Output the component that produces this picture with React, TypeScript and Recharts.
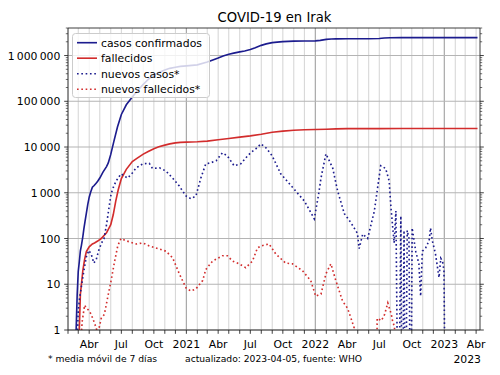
import React from "react";
import { LineChart, Line, XAxis, YAxis, ReferenceLine } from "recharts";

const FONT = '"DejaVu Sans", "Liberation Sans", sans-serif';
const W = 500;
const H = 375;

// ---------- texts ----------
const chartTitle = "COVID-19 en Irak";
const footnoteLeft = "* media móvil de 7 días";
const footnoteRight = "actualizado: 2023-04-05, fuente: WHO";
const offsetYearLabel = "2023";
const seriesNames = ["casos confirmados", "fallecidos", "nuevos casos*", "nuevos fallecidos*"];

// ---------- axis ----------
const xStart = "2020-02-01";
const xEnd = "2023-04-12";
const monthLabels: Record<number, string> = { 3: "Abr", 6: "Jul", 9: "Oct" };
const yMajorValues = [1, 10, 100, 1000, 10000, 100000, 1000000];
const yMajorLabels = ["1", "10", "100", "1\u2009000", "10\u2009000", "100\u2009000", "1\u2009000\u2009000"];
const yMax = 4000000;

// ---------- data: [date, value] ----------
const confirmed: [string, number][] = [
  ["2020-02-24", 1], ["2020-02-27", 6], ["2020-03-01", 19], ["2020-03-04", 31], ["2020-03-07", 54],
  ["2020-03-10", 71], ["2020-03-14", 110], ["2020-03-17", 164], ["2020-03-20", 230], ["2020-03-24", 360],
  ["2020-03-28", 560], ["2020-04-01", 800], ["2020-04-05", 1030], ["2020-04-10", 1320], ["2020-04-15", 1440],
  ["2020-04-20", 1600], ["2020-04-25", 1780], ["2020-05-01", 2100], ["2020-05-10", 2820], ["2020-05-20", 3730],
  ["2020-05-25", 4500], ["2020-06-01", 6900], ["2020-06-10", 13500], ["2020-06-20", 27400], ["2020-07-01", 51500],
  ["2020-07-15", 83900], ["2020-08-01", 124600], ["2020-08-15", 168000], ["2020-09-01", 234000], ["2020-09-15", 300000],
  ["2020-10-01", 367000], ["2020-10-15", 426000], ["2020-11-01", 484000], ["2020-11-15", 525000], ["2020-12-01", 556000],
  ["2020-12-15", 578000], ["2021-01-01", 596000], ["2021-02-01", 625000], ["2021-03-01", 720000], ["2021-03-15", 790000],
  ["2021-04-01", 880000], ["2021-04-15", 980000], ["2021-05-01", 1070000], ["2021-05-15", 1130000], ["2021-06-01", 1200000],
  ["2021-06-15", 1260000], ["2021-07-01", 1350000], ["2021-07-15", 1480000], ["2021-08-01", 1670000], ["2021-08-15", 1800000],
  ["2021-09-01", 1920000], ["2021-09-15", 1970000], ["2021-10-01", 2020000], ["2021-11-01", 2060000], ["2021-12-01", 2085000],
  ["2022-01-01", 2095000], ["2022-01-15", 2150000], ["2022-02-01", 2260000], ["2022-02-15", 2300000], ["2022-03-01", 2315000],
  ["2022-04-01", 2322000], ["2022-06-01", 2330000], ["2022-07-01", 2360000], ["2022-07-15", 2420000], ["2022-08-01", 2445000],
  ["2022-09-01", 2460000], ["2023-04-05", 2465000],
];

const deaths: [string, number][] = [
  ["2020-03-04", 1], ["2020-03-07", 6], ["2020-03-10", 10], ["2020-03-14", 20], ["2020-03-19", 35],
  ["2020-03-24", 52], ["2020-04-01", 66], ["2020-04-10", 76], ["2020-04-16", 80], ["2020-04-25", 88],
  ["2020-05-05", 100], ["2020-05-20", 133], ["2020-06-01", 200], ["2020-06-08", 330], ["2020-06-15", 650],
  ["2020-06-22", 1150], ["2020-07-01", 2050], ["2020-07-15", 3250], ["2020-08-01", 4800], ["2020-08-15", 5700],
  ["2020-09-01", 7000], ["2020-09-15", 8000], ["2020-10-01", 9200], ["2020-10-15", 10100], ["2020-11-01", 11000],
  ["2020-11-15", 11700], ["2020-12-01", 12300], ["2020-12-15", 12600], ["2021-01-01", 12830], ["2021-02-01", 13050],
  ["2021-03-01", 13500], ["2021-04-01", 14400], ["2021-05-01", 15400], ["2021-06-01", 16500], ["2021-07-01", 17500],
  ["2021-08-01", 19000], ["2021-09-01", 21000], ["2021-10-01", 22200], ["2021-11-01", 23200], ["2021-12-01", 23800],
  ["2022-01-01", 24100], ["2022-02-01", 24500], ["2022-03-01", 25000], ["2022-04-01", 25200], ["2022-07-01", 25230],
  ["2022-09-01", 25360], ["2023-04-05", 25375],
];

const newCases: [string, number][] = [
  ["2020-02-24", 0.14], ["2020-03-01", 2.7], ["2020-03-05", 5], ["2020-03-10", 9], ["2020-03-17", 20],
  ["2020-03-24", 40], ["2020-03-31", 55], ["2020-04-07", 45], ["2020-04-14", 29], ["2020-04-21", 35],
  ["2020-04-28", 55], ["2020-05-06", 80], ["2020-05-13", 100], ["2020-05-20", 200], ["2020-05-29", 600],
  ["2020-06-02", 950], ["2020-06-08", 1300], ["2020-06-16", 1800], ["2020-06-30", 2600], ["2020-07-10", 2300],
  ["2020-07-19", 2100], ["2020-08-01", 2700], ["2020-08-12", 3500], ["2020-08-31", 4300], ["2020-09-18", 4400],
  ["2020-09-27", 3400], ["2020-10-17", 3500], ["2020-11-04", 3000], ["2020-11-23", 2100], ["2020-12-12", 1400],
  ["2020-12-31", 850], ["2021-01-14", 740], ["2021-01-28", 850], ["2021-02-11", 2100], ["2021-02-25", 4300],
  ["2021-03-10", 4500], ["2021-03-26", 5000], ["2021-04-13", 7500], ["2021-04-27", 6400], ["2021-05-16", 3900],
  ["2021-06-04", 4300], ["2021-06-20", 6000], ["2021-07-02", 7500], ["2021-07-17", 9200], ["2021-07-31", 11700],
  ["2021-08-15", 9500], ["2021-09-01", 6400], ["2021-09-25", 2600], ["2021-10-13", 1800], ["2021-11-06", 1100],
  ["2021-12-01", 660], ["2021-12-29", 270], ["2022-01-10", 900], ["2022-01-17", 2100], ["2022-01-31", 7100],
  ["2022-02-19", 3500], ["2022-03-05", 1100], ["2022-03-24", 350], ["2022-04-12", 220], ["2022-04-30", 130],
  ["2022-05-05", 60], ["2022-05-15", 125], ["2022-05-29", 100], ["2022-06-17", 400], ["2022-07-05", 3900],
  ["2022-07-19", 3400], ["2022-07-29", 1800], ["2022-08-03", 470], ["2022-08-12", 80], ["2022-08-17", 400],
  ["2022-08-24", 0], ["2022-08-31", 310], ["2022-09-04", 0], ["2022-09-09", 150], ["2022-09-13", 0],
  ["2022-09-18", 150], ["2022-09-23", 100], ["2022-09-28", 0], ["2022-10-02", 170], ["2022-10-12", 53],
  ["2022-10-21", 28], ["2022-10-26", 5.5], ["2022-10-31", 53], ["2022-11-09", 62], ["2022-11-19", 90],
  ["2022-11-23", 170], ["2022-11-28", 90], ["2022-12-07", 46], ["2022-12-17", 14], ["2022-12-22", 37],
  ["2022-12-27", 32], ["2022-12-31", 20], ["2023-01-05", 0], ["2023-04-05", 0],
];

const newDeaths: [string, number][] = [
  ["2020-03-04", 0.14], ["2020-03-12", 1.5], ["2020-03-19", 3.5], ["2020-03-24", 3], ["2020-04-02", 2.6],
  ["2020-04-11", 1.8], ["2020-04-21", 1.1], ["2020-04-25", 0.8], ["2020-05-05", 1.8], ["2020-05-14", 2.2],
  ["2020-05-24", 5.5], ["2020-06-02", 12], ["2020-06-12", 32], ["2020-06-21", 70], ["2020-06-30", 100],
  ["2020-07-15", 89], ["2020-08-12", 76], ["2020-08-31", 80], ["2020-09-18", 69], ["2020-10-07", 62],
  ["2020-11-04", 53], ["2020-11-23", 38], ["2020-12-12", 17], ["2020-12-31", 8.3], ["2021-01-14", 7.1],
  ["2021-01-28", 7.9], ["2021-02-16", 12], ["2021-02-25", 21], ["2021-03-16", 32], ["2021-04-13", 42],
  ["2021-04-27", 42], ["2021-05-12", 32], ["2021-05-30", 28], ["2021-06-18", 23], ["2021-07-07", 32],
  ["2021-07-21", 62], ["2021-08-01", 69], ["2021-08-23", 76], ["2021-09-11", 46], ["2021-10-09", 29],
  ["2021-10-28", 28], ["2021-11-25", 20], ["2021-12-19", 12], ["2022-01-02", 5.5], ["2022-01-17", 6.1],
  ["2022-01-31", 17], ["2022-02-14", 28], ["2022-02-28", 12], ["2022-03-19", 4.3], ["2022-04-02", 3],
  ["2022-04-12", 1.8], ["2022-04-21", 1.1], ["2022-04-27", 0], ["2022-06-21", 0], ["2022-06-25", 1.8],
  ["2022-07-07", 1.6], ["2022-07-16", 2.2], ["2022-07-25", 3.9], ["2022-08-04", 2.2], ["2022-08-08", 1.5],
  ["2022-08-13", 1.2], ["2022-08-18", 0], ["2023-04-05", 0],
];

// ---------- styles ----------
const BLUE = "#1c1c8e";
const RED = "#d22c2c";
const SPINE = "#222";
const DOTS = "1.63 2.69";

// ---------- helpers ----------
const DAY0 = Date.UTC(2020, 0, 1);
const toDay = (s: string) => {
  const [y, m, d] = s.split("-").map(Number);
  return (Date.UTC(y, m - 1, d) - DAY0) / 86400000;
};
const LOG_FLOOR = 1e-3; // zero cannot be drawn on a log axis; sits below the frame and is clipped
const toPoints = (rows: [string, number][]) => rows.map(([s, v]) => ({ d: toDay(s), v: v > 0 ? v : LOG_FLOOR }));

const xMin = toDay(xStart);
const xMax = toDay(xEnd);

const monthTicks: number[] = [];
const yearTicks: number[] = [];
for (let y = 2020; y <= 2023; y++) {
  for (let m = 1; m <= 12; m++) {
    const d = toDay(`${y}-${String(m).padStart(2, "0")}-01`);
    if (d >= xMin && d <= xMax) {
      monthTicks.push(d);
      if (m === 1) yearTicks.push(d);
    }
  }
}

const yAllTicks: number[] = [];
yMajorValues.forEach((base) => {
  for (let k = 1; k <= 9; k++) {
    const v = base * k;
    if (v <= yMax) yAllTicks.push(v);
  }
});
const majorIndex = (v: number) => yMajorValues.findIndex((m) => Math.abs(m - v) < 1e-9 * m);

const series = [
  { name: seriesNames[0], data: toPoints(confirmed), color: BLUE, dash: undefined as string | undefined, width: 1.63 },
  { name: seriesNames[1], data: toPoints(deaths), color: RED, dash: undefined, width: 1.63 },
  { name: seriesNames[2], data: toPoints(newCases), color: BLUE, dash: DOTS, width: 1.63 },
  { name: seriesNames[3], data: toPoints(newDeaths), color: RED, dash: DOTS, width: 1.63 },
];

const XTick = (props: any) => {
  const { x, y, payload } = props;
  const day = payload.value as number;
  const dt = new Date(DAY0 + day * 86400000);
  const m = dt.getUTCMonth();
  const label = m === 0 ? String(dt.getUTCFullYear()) : monthLabels[m];
  return (
    <g>
      <line x1={x} x2={x} y1={y} y2={y + 3.8} stroke={SPINE} strokeWidth={0.87} />
      {label ? (
        <text x={x} y={y + 18} textAnchor="middle" fontFamily={FONT} fontSize={10.85} fill="#000">
          {label}
        </text>
      ) : null}
    </g>
  );
};

const makeYTick = (side: "left" | "right") => (props: any) => {
  const { x, y, payload } = props;
  const idx = majorIndex(payload.value);
  const major = idx >= 0;
  const len = major ? 3.8 : 2.2;
  const dir = side === "left" ? -1 : 1;
  return (
    <g>
      <line x1={x} x2={x + dir * len} y1={y} y2={y} stroke={SPINE} strokeWidth={major ? 0.87 : 0.65} />
      {major && side === "left" ? (
        <text x={x - 7.6} y={y + 4} textAnchor="end" fontFamily={FONT} fontSize={10.85} fill="#000">
          {yMajorLabels[idx]}
        </text>
      ) : null}
    </g>
  );
};
const YTickLeft = makeYTick("left");
const YTickRight = makeYTick("right");

export default function App() {
  return (
    <div style={{ position: "absolute", left: 0, top: 0, width: W, height: H, background: "#fff" }}>
      <LineChart width={W} height={H} margin={{ top: 27, right: 19, bottom: 25, left: 0 }}>
        {monthTicks.map((d) => (
          <ReferenceLine
            key={`vx${d}`}
            x={d}
            stroke={yearTicks.includes(d) ? "#a8a8a8" : "#cfcfcf"}
            strokeWidth={yearTicks.includes(d) ? 1.2 : 0.9}
            zIndex={-50}
          />
        ))}
        {yMajorValues.map((v) => (
          <ReferenceLine key={`hy${v}`} y={v} stroke="#b4b4b4" strokeWidth={1.1} zIndex={-50} />
        ))}
        <XAxis
          dataKey="d"
          type="number"
          domain={[xMin, xMax]}
          allowDataOverflow
          ticks={monthTicks}
          interval={0}
          tickSize={0}
          tickMargin={0}
          tickLine={false}
          tick={(p: any) => <XTick {...p} />}
          axisLine={{ stroke: SPINE, strokeWidth: 0.87 }}
          height={20}
        />
        <XAxis
          xAxisId="top"
          orientation="top"
          dataKey="d"
          type="number"
          domain={[xMin, xMax]}
          allowDataOverflow
          tick={false}
          tickLine={false}
          axisLine={{ stroke: SPINE, strokeWidth: 0.87 }}
          height={1}
        />
        <YAxis
          type="number"
          scale="log"
          domain={[1, yMax]}
          allowDataOverflow
          ticks={yAllTicks}
          interval={0}
          tickSize={0}
          tickMargin={0}
          tickLine={false}
          tick={(p: any) => <YTickLeft {...p} />}
          axisLine={{ stroke: SPINE, strokeWidth: 0.87 }}
          width={68}
        />
        <YAxis
          yAxisId="right"
          orientation="right"
          type="number"
          scale="log"
          domain={[1, yMax]}
          allowDataOverflow
          ticks={yAllTicks}
          interval={0}
          tickSize={0}
          tickMargin={0}
          tickLine={false}
          tick={(p: any) => <YTickRight {...p} />}
          axisLine={{ stroke: SPINE, strokeWidth: 0.87 }}
          width={1}
        />
        {series.map((s) => (
          <Line
            key={s.name}
            name={s.name}
            data={s.data}
            dataKey="v"
            type="linear"
            stroke={s.color}
            strokeWidth={s.width}
            strokeDasharray={s.dash}
            dot={false}
            activeDot={false}
            isAnimationActive={false}
          />
        ))}
      </LineChart>
      <svg
        width={W}
        height={H}
        style={{ position: "absolute", left: 0, top: 0, pointerEvents: "none" }}
      >
        <text x={274.5} y={22} textAnchor="middle" fontFamily={FONT} fontSize={13.2} fill="#000">
          {chartTitle}
        </text>
        <g transform="translate(72,33)">
          <rect x={0.5} y={0.5} width={137} height={64} rx={3} fill="rgba(255,255,255,0.8)" stroke="#cccccc" strokeWidth={1} />
          {series.map((s, i) => {
            const cy = 9.7 + i * 15.5;
            return (
              <g key={s.name}>
                <line x1={5} x2={25} y1={cy} y2={cy} stroke={s.color} strokeWidth={s.width} strokeDasharray={s.dash} />
                <text x={29} y={cy + 3.8} fontFamily={FONT} fontSize={10.85} fill="#000">
                  {s.name}
                </text>
              </g>
            );
          })}
        </g>
        <text x={48} y={362} fontFamily={FONT} fontSize={9.2} fill="#000">
          {footnoteLeft}
        </text>
        <text x={185} y={362} fontFamily={FONT} fontSize={9.2} fill="#000">
          {footnoteRight}
        </text>
        <text x={481} y={363} textAnchor="end" fontFamily={FONT} fontSize={10.85} fill="#000">
          {offsetYearLabel}
        </text>
      </svg>
    </div>
  );
}
